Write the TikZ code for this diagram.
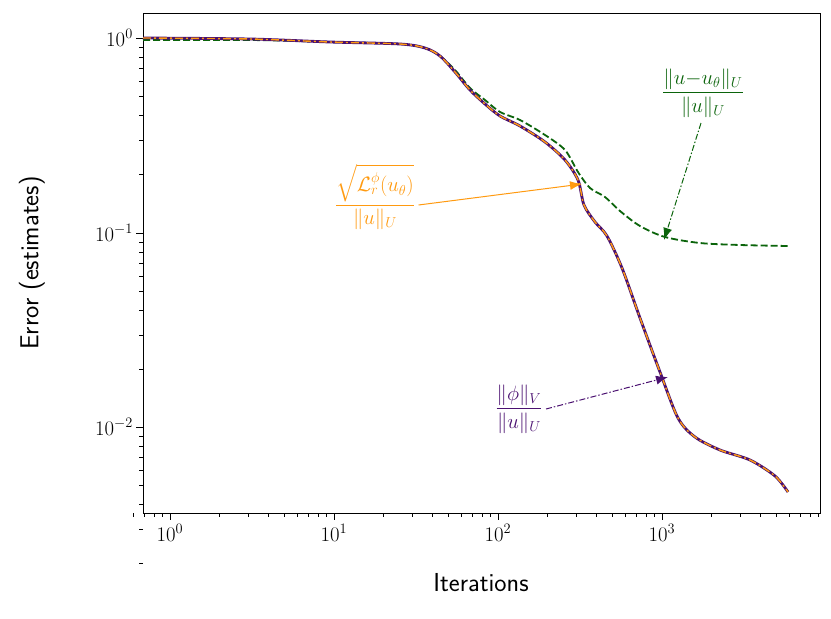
\documentclass[tikz,border=0pt]{standalone}
\usepackage{amsmath}
\usetikzlibrary{positioning,arrows.meta}
\definecolor{errgreen}{HTML}{0B640B}
\definecolor{errpurple}{HTML}{4A1070}
\definecolor{errorange}{HTML}{FF9A10}
\renewcommand{\familydefault}{\sfdefault}

\begin{document}
\begin{tikzpicture}[x=1pt,y=-1pt,font=\fontsize{22}{26}\selectfont,
  lbl/.style={inner sep=1pt},
  tick/.style={line width=0.8pt}]
\useasboundingbox (0,0) rectangle (831,619);
\def\xl{143}
\def\xr{820}
\def\yt{13}
\def\yb{513}

% axes box
\draw[line width=1pt] (\xl,\yt) rectangle (\xr,\yb);

% x ticks
\foreach \d/\p in {0/170,1/334,2/498,3/662}{
	\draw[tick] (\p,\yb)--(\p,\yb+7);
	\node[lbl,below] (xt\d) at (\p,\yb+10) {$10^{\d}$};
	\foreach \m in {2,...,9}
		\pgfmathsetmacro\q{\p+164*log10(\m)}
		\ifdim \q pt<\xr pt \draw[tick] (\q,\yb)--(\q,\yb+4);\fi
}
\foreach \m in {6,7,8,9}
	\draw[tick] ({170+164*log10(\m/10)},\yb)--({170+164*log10(\m/10)},\yb+4);

% y ticks
\foreach \d/\p in {0/38,-1/233,-2/427}{
	\draw[tick] (\xl,\p)--(\xl-7,\p);
	\node[lbl,left] (yt\d) at (\xl-9,\p) {$10^{\d}$};
	\foreach \m in {2,...,9}
		\pgfmathsetmacro\q{\p-195*log10(\m)+195}
		\draw[tick] (\xl,\q)--(\xl-4,\q);
}
\foreach \m in {5,6,7,8,9}
	\draw[tick] (\xl,{427+195-195*log10(\m)})--(\xl-4,{427+195-195*log10(\m)});

\node[font=\fontsize{26}{30}\selectfont] (xlab) at (481,583) {Iterations};
\node[font=\fontsize{26}{30}\selectfont,rotate=90] (ylab) at (32,263) {Error (estimates)};

% curves
\draw[errgreen,dashed,line width=1.8pt,dash pattern=on 7pt off 3pt] plot[smooth] coordinates {(143,40) (250,40) (330,42) (400,44) (425,48) (440,56) (455,70) (470,88) (485,100) (500,112) (520,120) (545,135) (565,150) (578,172) (590,188) (605,197) (620,211) (640,226) (665,237) (700,243) (740,245) (788,246)};
\draw[errpurple,line width=2.8pt] plot[smooth] coordinates {(143,38) (250,39) (330,42) (400,44) (425,48) (440,56) (455,72) (470,90) (485,104) (500,116) (520,126) (545,142) (565,160) (578,180) (584,205) (595,222) (607,236) (622,268) (640,318) (660,372) (678,418) (695,437) (720,450) (750,460) (775,476) (788,492)};
\draw[errorange,line width=1.4pt,dash pattern=on 8pt off 3pt on 2pt off 3pt] plot[smooth] coordinates {(143,38) (250,39) (330,42) (400,44) (425,48) (440,56) (455,72) (470,90) (485,104) (500,116) (520,126) (545,142) (565,160) (578,180) (584,205) (595,222) (607,236) (622,268) (640,318) (660,372) (678,418) (695,437) (720,450) (750,460) (775,476) (788,492)};

% labels
\node[errgreen] (gl) at (703,93) {$\dfrac{\|u{-}u_\theta\|_U}{\|u\|_U}$};
\node[errorange] (ol) at (375,197) {$\dfrac{\sqrt{\mathcal{L}_r^\phi(u_\theta)}}{\|u\|_U}$};
\node[errpurple] (pl) at (519,409) {$\dfrac{\|\phi\|_V}{\|u\|_U}$};
\coordinate (ga) at (664,240);
\coordinate (oa) at (582,184);
\coordinate (pa) at (668,377);
\draw[errgreen,line width=1pt,dash pattern=on 6pt off 2pt on 1.5pt off 2pt,-{Latex[length=12pt,width=9pt]}] (gl.south) ++(-2,2) -- (ga);
\draw[errorange,line width=1pt,-{Latex[length=12pt,width=9pt]}] (ol.east) ++(0,8) -- (oa);
\draw[errpurple,line width=1pt,dash pattern=on 6pt off 2pt on 1.5pt off 2pt,-{Latex[length=12pt,width=9pt]}] (pl.east) -- (pa);
\end{tikzpicture}
\end{document}
